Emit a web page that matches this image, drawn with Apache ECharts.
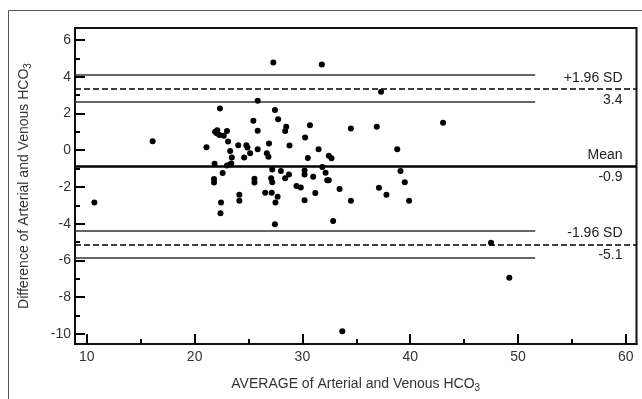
<!DOCTYPE html>
<html>
<head>
<meta charset="utf-8">
<script src="https://cdn.jsdelivr.net/npm/echarts@6/dist/echarts.min.js"></script>
<style>
html,body{margin:0;padding:0;background:#fff;}
#chart{width:642px;height:399px;}
</style>
</head>
<body>
<div id="chart"></div>
<script>
// ---- data ----
const avgValues = [10.7,16.1,21.1,22.35,21.9,22.1,22.3,22.05,23.0,22.7,23.1,23.3,23.45,24.05,24.8,24.9,25.15,24.6,25.85,25.85,25.45,25.85,26.9,26.7,26.85,21.85,23.0,23.3,23.4,22.6,21.8,21.8,25.55,25.55,27.2,27.1,27.2,28.0,28.75,28.4,30.2,30.2,31.0,31.85,32.15,32.3,32.45,29.45,29.85,33.45,26.55,27.15,27.7,27.5,31.2,30.2,24.15,24.15,22.45,22.4,27.45,32.85,27.3,31.8,27.45,27.75,28.5,28.4,30.7,30.25,28.8,31.5,30.5,32.45,32.7,37.3,34.5,36.9,43.05,38.8,39.1,39.5,37.1,37.8,34.5,39.9,47.5,49.2,33.7];
const diffValues = [-2.85,0.49,0.16,2.27,1.0,1.09,0.82,0.92,1.05,0.78,0.47,-0.04,-0.4,0.27,0.27,0.15,-0.17,-0.4,0.05,2.69,1.6,1.06,0.36,-0.17,-0.36,-0.74,-0.84,-0.76,-0.72,-1.24,-1.57,-1.76,-1.55,-1.76,-1.05,-1.53,-1.75,-1.13,-1.32,-1.53,-1.1,-1.32,-1.44,-0.91,-1.23,-1.64,-1.64,-1.95,-2.03,-2.11,-2.32,-2.32,-2.53,-2.85,-2.33,-2.73,-2.43,-2.75,-2.85,-3.44,-4.03,-3.86,4.77,4.67,2.18,1.68,1.27,1.05,1.36,0.69,0.26,0.05,-0.42,-0.31,-0.44,3.18,1.18,1.27,1.49,0.05,-1.13,-1.75,-2.04,-2.43,-2.75,-2.75,-5.04,-6.95,-9.86];
const meanDiff = -0.87;
const upperLimit = 3.33, upperCiHigh = 4.09, upperCiLow = 2.62;
const lowerLimit = -5.13, lowerCiHigh = -4.40, lowerCiLow = -5.84;
const ciLineEnd = 51.6;
const upperLabels = ['+1.96 SD', '3.4'];
const meanLabels = ['Mean', '-0.9'];
const lowerLabels = ['-1.96 SD', '-5.1'];
const xMajorTicks = [10,20,30,40,50,60];
const xMinorTicks = [15,25,35,45,55];
const yMajorTicks = [-10,-8,-6,-4,-2,0,2,4,6];
const yMinorTicks = [-9,-7,-5,-3,-1,1,3,5];
const xMin = 8.9, xMax = 61, yMin = -10.55, yMax = 6.65;

const font = 'Liberation Sans, Arial, sans-serif';
const points = avgValues.map((x, i) => [x, diffValues[i]]);

const labelStyle = (pos, txt) => ({show: true, position: pos, formatter: txt, fontSize: 14, color: '#222', fontFamily: font, distance: [14, 4]});
const ciLine = (y) => [{coord: [xMin, y], label: {show: false}}, {coord: [ciLineEnd, y], lineStyle: {color: '#333', width: 1.5, type: 'solid'}}];
const hiddenLine = {color: 'rgba(0,0,0,0)', width: 1};

const tickLine = {color: '#000', width: 2};
const chart = echarts.init(document.getElementById('chart'), null, {renderer: 'canvas'});
chart.setOption({
  animation: false,
  backgroundColor: '#fff',
  grid: {left: 75, top: 28, right: 5.5, bottom: 55, show: true, borderColor: '#111', borderWidth: 2, backgroundColor: 'transparent'},
  xAxis: [{
    type: 'value', min: xMin, max: xMax, position: 'bottom',
    name: 'AVERAGE of Arterial and Venous HCO{s|3}', nameLocation: 'middle', nameGap: 31,
    nameTextStyle: {fontSize: 14, color: '#333', fontFamily: font, rich: {s: {fontSize: 10, color: '#333', fontFamily: font, padding: [8, 0, 0, 0]}}},
    axisLine: {show: true, onZero: false, lineStyle: {color: '#111', width: 2}},
    splitLine: {show: false},
    axisTick: {show: true, inside: true, length: 10, lineStyle: tickLine, customValues: xMajorTicks},
    axisLabel: {fontSize: 14, color: '#333', fontFamily: font, margin: 6, customValues: xMajorTicks}
  }, {
    type: 'value', min: xMin, max: xMax, position: 'bottom',
    axisLine: {show: true, onZero: false, lineStyle: {color: '#111', width: 2}}, splitLine: {show: false}, axisLabel: {show: false},
    axisTick: {show: true, inside: true, length: 5, lineStyle: tickLine, customValues: xMinorTicks}
  }],
  yAxis: [{
    type: 'value', min: yMin, max: yMax, position: 'left',
    name: 'Difference of Arterial and Venous HCO{s|3}', nameLocation: 'middle', nameGap: 42,
    nameTextStyle: {fontSize: 14, color: '#333', fontFamily: font, rich: {s: {fontSize: 10, color: '#333', fontFamily: font, padding: [8, 0, 0, 0]}}},
    axisLine: {show: true, onZero: false, lineStyle: {color: '#111', width: 2}},
    splitLine: {show: false},
    axisTick: {show: true, inside: true, length: 10, lineStyle: tickLine, customValues: yMajorTicks},
    axisLabel: {fontSize: 14, color: '#333', fontFamily: font, margin: 4, customValues: yMajorTicks}
  }, {
    type: 'value', min: yMin, max: yMax, position: 'left',
    axisLine: {show: true, onZero: false, lineStyle: {color: '#111', width: 2}}, splitLine: {show: false}, axisLabel: {show: false},
    axisTick: {show: true, inside: true, length: 5, lineStyle: tickLine, customValues: yMinorTicks}
  }],
  series: [{
    type: 'scatter', data: points, symbol: 'circle', symbolSize: 6,
    itemStyle: {color: '#000', opacity: 1}, silent: true, z: 5,
    markLine: {
      silent: true, symbol: 'none', animation: false,
      data: [
        {yAxis: upperLimit, lineStyle: {color: '#000', width: 1.5, type: [6, 3]}, label: labelStyle('insideEndTop', upperLabels[0])},
        {yAxis: meanDiff, lineStyle: {color: '#000', width: 2.5, type: 'solid'}, label: labelStyle('insideEndTop', meanLabels[0])},
        {yAxis: lowerLimit, lineStyle: {color: '#000', width: 1.5, type: [6, 3]}, label: labelStyle('insideEndTop', lowerLabels[0])},
        ciLine(upperCiHigh), ciLine(upperCiLow), ciLine(lowerCiHigh), ciLine(lowerCiLow)
      ]
    }
  }, {
    type: 'scatter', data: [], silent: true,
    markLine: {
      silent: true, symbol: 'none', animation: false,
      data: [
        {yAxis: upperLimit, lineStyle: hiddenLine, label: labelStyle('insideEndBottom', upperLabels[1])},
        {yAxis: meanDiff, lineStyle: hiddenLine, label: labelStyle('insideEndBottom', meanLabels[1])},
        {yAxis: lowerLimit, lineStyle: hiddenLine, label: labelStyle('insideEndBottom', lowerLabels[1])}
      ]
    }
  }],
  graphic: [
    {type: 'line', shape: {x1: 8.5, y1: 10.5, x2: 8.5, y2: 399}, style: {stroke: '#555', lineWidth: 1}, silent: true},
    {type: 'line', shape: {x1: 8.5, y1: 10.5, x2: 642, y2: 10.5}, style: {stroke: '#555', lineWidth: 1}, silent: true}
  ]
});
</script>
</body>
</html>
